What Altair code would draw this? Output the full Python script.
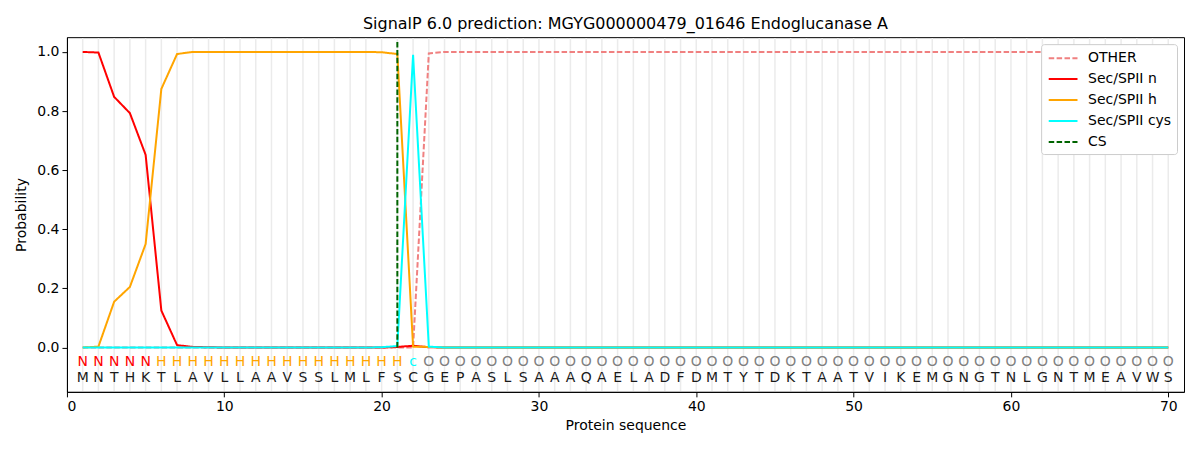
import altair as alt
import pandas as pd

residues = list("MNTHKTLAVLLAAVSSLMLFSCGEPASLSAAAQAELADFDMTYTDKTAATVIKEMGNGTNLGNTMEAVWS")
region_labels = ["N"] * 5 + ["H"] * 16 + ["c"] + ["O"] * 48

other = [0.0] * 22 + [0.995] + [1.0] * 47
sec_n = [1.0, 0.998, 0.848, 0.793, 0.652, 0.125, 0.008, 0.002, 0.001] + [0.0] * 11 + [0.002, 0.006, 0.001] + [0.0] * 47
sec_h = [0.0, 0.003, 0.155, 0.205, 0.35, 0.875, 0.993] + [1.0] * 12 + [0.999, 0.993, 0.003, 0.002] + [0.0] * 47
sec_cys = [0.0] * 19 + [0.001, 0.005, 0.99, 0.003] + [0.0] * 47

cs_pos = 21
cs_y = [0.0, 1.035]

series_names = ["OTHER", "Sec/SPII n", "Sec/SPII h", "Sec/SPII cys", "CS"]
series_colors = ["#f08080", "#ff0000", "#ffa500", "#00ffff", "#006400"]
series_dash = [[5.5, 2.4], [1, 0], [1, 0], [1, 0], [5.5, 2.4]]

label_colors = {"N": "#ff0000", "H": "#ffa500", "c": "#00ffff", "O": "#808080"}

positions = list(range(1, 71))

rows = []
for name, vals in zip(series_names[:4], [other, sec_n, sec_h, sec_cys]):
    for p, v in zip(positions, vals):
        rows.append({"pos": p, "prob": v, "series": name})
for v in cs_y:
    rows.append({"pos": cs_pos, "prob": v, "series": "CS"})
lines_df = pd.DataFrame(rows)

grid_df = pd.DataFrame({"pos": positions})
text_df = pd.DataFrame({
    "pos": positions,
    "res": residues,
    "lab": region_labels,
    "col": [label_colors[l] for l in region_labels],
})

FONT = "DejaVu Sans"
xscale = alt.Scale(domain=[0, 71], nice=False, zero=False)
yscale = alt.Scale(domain=[-0.15, 1.05], nice=False, zero=False)

grid = alt.Chart(grid_df).mark_rule(color="#ebebeb", strokeWidth=1.5).encode(
    x=alt.X("pos:Q", scale=xscale),
    y=alt.datum(-0.147, scale=yscale),
    y2=alt.datum(1.047),
)

color_enc = alt.Color(
    "series:N", scale=alt.Scale(domain=series_names, range=series_colors),
    legend=alt.Legend(title=None, orient="top-right", offset=7,
                      symbolType="M-0.8,0H2.8", symbolStrokeWidth=2, symbolSize=256,
                      labelFontSize=14, labelFont=FONT, labelColor="black",
                      fillColor="white", strokeColor="#cccccc", cornerRadius=3,
                      padding=5, rowPadding=5, labelOffset=24),
)
dash_enc = alt.StrokeDash("series:N", scale=alt.Scale(domain=series_names, range=series_dash),
                          legend=None)

base = alt.Chart(lines_df).mark_line(strokeWidth=2).encode(
    x=alt.X("pos:Q", scale=xscale,
            axis=alt.Axis(title="Protein sequence", values=list(range(0, 71, 10)), grid=False,
                          tickSize=5, labelPadding=3, titlePadding=5)),
    y=alt.Y("prob:Q", scale=yscale,
            axis=alt.Axis(title="Probability", values=[0, 0.2, 0.4, 0.6, 0.8, 1.0], format=".1f",
                          grid=False, tickSize=5, labelPadding=3, titlePadding=8)),
    color=color_enc,
    strokeDash=dash_enc,
)

line_layers = [base.transform_filter(alt.datum.series == s) for s in series_names]

lab_text = alt.Chart(text_df).mark_text(fontSize=14, font=FONT).encode(
    x=alt.X("pos:Q", scale=xscale),
    y=alt.datum(-0.05),
    text="lab:N",
    color=alt.Color("col:N", scale=None),
)
res_text = alt.Chart(text_df).mark_text(fontSize=14, font=FONT, color="#1a1a1a").encode(
    x=alt.X("pos:Q", scale=xscale),
    y=alt.datum(-0.102),
    text="res:N",
)

chart = alt.layer(grid, *line_layers, lab_text, res_text).properties(
    width=1118,
    height=355,
    title=alt.Title("SignalP 6.0 prediction: MGYG000000479_01646 Endoglucanase A",
                    fontSize=16, font=FONT, fontWeight="normal", offset=5),
    autosize=alt.AutoSizeParams(type="none"),
    padding={"left": 59, "top": 29, "right": 8, "bottom": 50},
).configure_view(stroke="black", strokeWidth=1).configure_axis(
    labelFont=FONT, titleFont=FONT, labelFontSize=14, titleFontSize=14,
    labelColor="black", titleColor="black", domainColor="black", tickColor="black",
    titleFontWeight="normal",
)

chart.save("out.html", embed_options={"renderer": "svg", "actions": False})
